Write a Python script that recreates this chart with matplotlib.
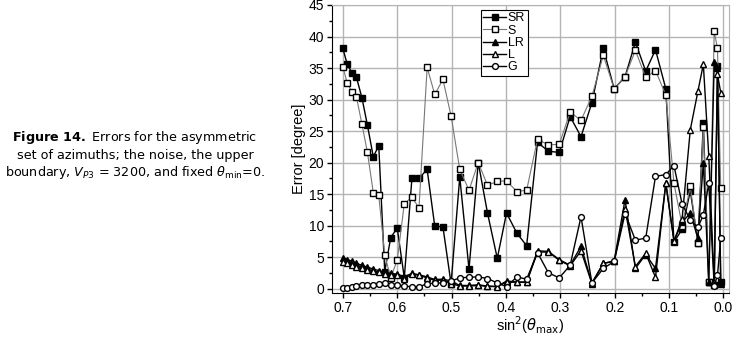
import numpy as np
import matplotlib.pyplot as plt
from matplotlib.ticker import MultipleLocator

# sin^2(theta_max) values
x = [0.700, 0.692, 0.683, 0.675, 0.665, 0.655, 0.644, 0.634, 0.623, 0.612,
     0.600, 0.587, 0.573, 0.560, 0.545, 0.531, 0.516, 0.501, 0.485, 0.468,
     0.451, 0.434, 0.416, 0.399, 0.380, 0.362, 0.342, 0.322, 0.302, 0.282,
     0.262, 0.242, 0.221, 0.201, 0.181, 0.162, 0.143, 0.125, 0.106, 0.091,
     0.076, 0.061, 0.047, 0.037, 0.027, 0.017, 0.011, 0.005]

sr = [38.1, 35.6, 34.2, 33.5, 30.3, 26.0, 20.9, 22.7, 2.7, 8.1,
      9.6, 1.7, 17.5, 17.5, 18.9, 9.9, 9.8, 0.8, 17.7, 3.1,
      20.0, 12.0, 4.8, 12.0, 8.8, 6.8, 23.2, 21.8, 21.6, 27.3,
      24.1, 29.5, 38.1, 31.7, 33.6, 39.1, 34.5, 37.9, 31.7, 7.4,
      9.4, 15.5, 7.3, 26.3, 1.0, 0.5, 35.3, 1.0]

s = [35.2, 32.6, 31.2, 30.4, 26.1, 21.7, 15.2, 14.8, 5.3, 1.75,
     4.5, 13.5, 14.5, 12.8, 35.1, 30.8, 33.2, 27.4, 18.9, 15.6,
     20.0, 16.4, 17.0, 17.1, 15.4, 15.6, 23.7, 22.8, 22.9, 28.0,
     26.7, 30.5, 37.0, 31.7, 33.6, 37.8, 33.5, 34.6, 30.7, 16.7,
     10.0, 16.2, 7.3, 25.6, 1.0, 40.8, 38.1, 15.9]

lr = [4.9, 4.6, 4.35, 4.0, 3.7, 3.4, 3.1, 2.85, 2.6, 2.4,
      2.3, 1.9, 2.4, 2.2, 1.85, 1.45, 1.5, 1.2, 0.5, 0.5,
      0.6, 0.4, 0.35, 1.2, 1.05, 1.05, 6.0, 5.9, 4.6, 3.7,
      6.7, 0.9, 4.0, 4.4, 14.1, 3.2, 5.4, 3.2, 16.7, 7.6,
      10.5, 12.0, 8.0, 20.0, 1.0, 35.9, 35.0, 0.8]

l = [4.2, 4.0, 3.7, 3.5, 3.3, 3.0, 2.8, 2.6, 2.3, 2.2,
     2.2, 1.6, 2.3, 2.1, 1.7, 1.3, 1.35, 0.8, 0.4, 0.4,
     0.5, 0.35, 0.3, 1.05, 1.0, 1.0, 5.8, 5.8, 4.5, 3.6,
     6.0, 0.8, 4.0, 4.3, 12.7, 3.5, 5.6, 1.8, 16.7, 7.5,
     11.1, 25.2, 31.3, 35.6, 21.0, 1.0, 34.0, 31.1]

g = [0.15, 0.15, 0.2, 0.35, 0.5, 0.6, 0.6, 0.65, 0.9, 0.55,
     0.5, 0.45, 0.25, 0.25, 0.8, 0.85, 0.9, 1.2, 1.7, 1.8,
     1.85, 1.6, 0.9, 0.3, 1.85, 1.5, 5.7, 2.5, 1.7, 3.7,
     11.4, 0.9, 3.2, 4.3, 11.9, 7.7, 8.0, 17.8, 18.1, 19.5,
     13.4, 10.9, 9.7, 11.7, 16.7, 0.4, 2.1, 8.0]

fig = plt.figure(figsize=(7.36, 3.38), dpi=100)
ax = fig.add_axes([332 / 736, 1 - 293 / 338, 397 / 736, 288 / 338])

ms = 4.2
ax.plot(x, sr, marker='s', color='black', ms=ms, lw=1.0, label='SR')
ax.plot(x, s, marker='s', color='#777777', mec='black', mfc='white', ms=ms, lw=0.8, label='S')
ax.plot(x, lr, marker='^', color='black', ms=ms + 0.6, lw=1.0, label='LR')
ax.plot(x, l, marker='^', color='black', mfc='white', ms=ms + 0.6, lw=1.0, label='L')
ax.plot(x, g, marker='o', color='black', mfc='white', ms=ms, lw=1.0, label='G')

ax.set_xlim(0.72, -0.0102)
ax.set_ylim(-0.7, 45)
ax.xaxis.set_major_locator(MultipleLocator(0.1))
ax.xaxis.set_minor_locator(MultipleLocator(0.05))
ax.yaxis.set_major_locator(MultipleLocator(5))
ax.yaxis.set_minor_locator(MultipleLocator(2.5))
ax.set_xticks([0.7, 0.6, 0.5, 0.4, 0.3, 0.2, 0.1, 0.0])
ax.set_xticklabels(['0.7', '0.6', '0.5', '0.4', '0.3', '0.2', '0.1', '0.0'])
ax.grid(True, which='major', color='#b4b4b4', lw=1.0)
ax.set_axisbelow(True)
ax.tick_params(which='both', direction='out', labelsize=10, width=1, pad=2)
ax.tick_params(which='major', length=3.5)
ax.tick_params(which='minor', length=2)
for lab in ax.get_xticklabels() + ax.get_yticklabels():
    lab.set_family('Liberation Sans')
ax.spines['top'].set_color('#b4b4b4')
ax.spines['right'].set_color('#b4b4b4')

ax.set_ylabel('Error [degree]', family='Liberation Sans', fontsize=10.5, labelpad=2)
ax.set_xlabel(r'sin$^2$($\theta_{\rm max}$)', family='Liberation Sans', fontsize=10.5, labelpad=0)

leg = ax.legend(loc='upper left', bbox_to_anchor=(0.375, 0.983), fancybox=False,
                edgecolor='black', framealpha=1, handlelength=1.8, handletextpad=0.15,
                borderpad=0.2, labelspacing=0.02, borderaxespad=0,
                prop={'family': 'Liberation Sans', 'size': 9})
leg.get_frame().set_linewidth(0.8)

# caption on the left
fig.text(135 / 736, 1 - 138 / 338, r'$\mathbf{Figure\ 14.}$ Errors for the asymmetric',
         ha='center', va='center', fontsize=9.2, family='DejaVu Sans')
fig.text(135 / 736, 1 - 155 / 338, 'set of azimuths; the noise, the upper',
         ha='center', va='center', fontsize=9.2, family='DejaVu Sans')
fig.text(135 / 736, 1 - 173 / 338, r'boundary, $V_{P3}$ = 3200, and fixed $\theta_{\rm min}$=0.',
         ha='center', va='center', fontsize=9.2, family='DejaVu Sans')

fig.savefig('out.png', dpi=100)
